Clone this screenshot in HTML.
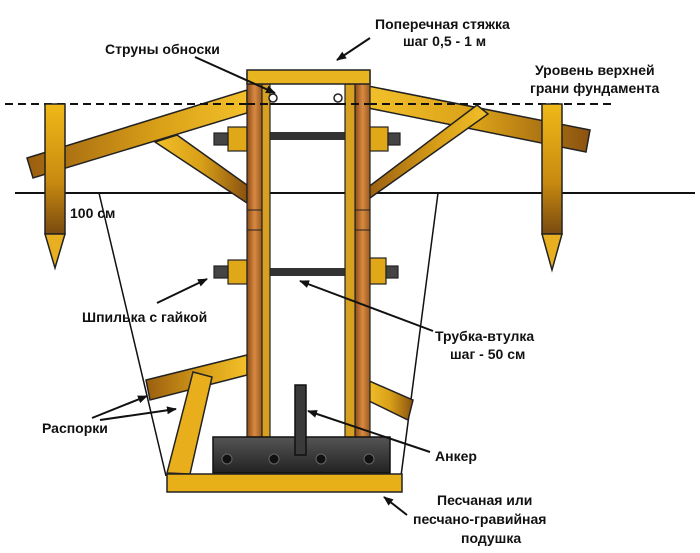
<!DOCTYPE html>
<html><head><meta charset="utf-8"><style>
html,body{margin:0;padding:0;background:#fff;width:700px;height:553px;overflow:hidden}
text{font-family:"Liberation Sans","DejaVu Sans",sans-serif;font-weight:bold;font-size:14px;fill:#111}
</style></head><body>
<svg width="700" height="553" viewBox="0 0 700 553" xmlns="http://www.w3.org/2000/svg">
<defs>
<linearGradient id="wv" x1="0" y1="0" x2="0" y2="1"><stop offset="0" stop-color="#f0b818"/><stop offset="0.6" stop-color="#c88a10"/><stop offset="1" stop-color="#7a4a10"/></linearGradient>
<linearGradient id="wh" x1="0" y1="0" x2="1" y2="0"><stop offset="0" stop-color="#9a5e10"/><stop offset="0.6" stop-color="#d9a018"/><stop offset="1" stop-color="#f2c02a"/></linearGradient>
<linearGradient id="wh2" x1="0" y1="0" x2="1" y2="0"><stop offset="0" stop-color="#f2c02a"/><stop offset="0.5" stop-color="#d9a018"/><stop offset="1" stop-color="#8a5210"/></linearGradient>
<linearGradient id="post" x1="0" y1="0" x2="1" y2="0"><stop offset="0" stop-color="#8a4a18"/><stop offset="0.5" stop-color="#d88a40"/><stop offset="1" stop-color="#9a5a20"/></linearGradient>
<linearGradient id="dark" x1="0" y1="0" x2="0" y2="1"><stop offset="0" stop-color="#555"/><stop offset="1" stop-color="#222"/></linearGradient>
<marker id="ar" markerWidth="10" markerHeight="8" refX="9" refY="4" orient="auto" markerUnits="userSpaceOnUse"><path d="M0,0 L10,4 L0,8 Z" fill="#111"/></marker>
</defs>
<line x1="15" y1="193" x2="695" y2="193" stroke="#111" stroke-width="2"/>
<line x1="99" y1="193" x2="166" y2="476" stroke="#111" stroke-width="1.5"/>
<line x1="438" y1="193" x2="401" y2="476" stroke="#111" stroke-width="1.5"/>
<polygon points="27,158 247,90 247,113 33,178" fill="url(#wh)" stroke="#222" stroke-width="1.5"/>
<polygon points="155,142 177,135 247,185 247,203" fill="url(#wh2)" stroke="#222" stroke-width="1.5"/>
<polygon points="368,86 590,130 586,152 368,108" fill="url(#wh2)" stroke="#222" stroke-width="1.5"/>
<polygon points="367,188 477,105 488,114 370,198" fill="url(#wh)" stroke="#222" stroke-width="1.5"/>
<line x1="5" y1="104" x2="615" y2="104" stroke="#111" stroke-width="2" stroke-dasharray="8,5"/>
<rect x="45" y="104" width="20" height="130" fill="url(#wv)" stroke="#222" stroke-width="1.5"/>
<polygon points="45,234 65,234 55,268" fill="#e8b020" stroke="#222" stroke-width="1.5"/>
<rect x="542" y="104" width="20" height="130" fill="url(#wv)" stroke="#222" stroke-width="1.5"/>
<polygon points="542,234 562,234 552,270" fill="#e8b020" stroke="#222" stroke-width="1.5"/>
<polygon points="146,380 247,355 247,375 150,400" fill="url(#wh)" stroke="#222" stroke-width="1.5"/>
<polygon points="193,372 212,377 190,474 167,473" fill="#e8ae1c" stroke="#222" stroke-width="1.5"/>
<polygon points="367,380 413,400 408,420 367,400" fill="url(#wh2)" stroke="#222" stroke-width="1.5"/>
<rect x="268" y="132" width="80" height="8" fill="#333"/>
<rect x="268" y="268" width="80" height="8" fill="#333"/>
<g stroke="#222" stroke-width="1.2">
<rect x="228" y="127" width="19" height="24" fill="#e0a818"/><rect x="214" y="133" width="14" height="12" fill="#444"/>
<rect x="369" y="127" width="19" height="24" fill="#e0a818"/><rect x="388" y="133" width="12" height="12" fill="#444"/>
<rect x="228" y="260" width="19" height="24" fill="#e0a818"/><rect x="214" y="266" width="14" height="12" fill="#444"/>
<rect x="367" y="258" width="19" height="26" fill="#e0a818"/><rect x="386" y="266" width="12" height="12" fill="#444"/>
</g>
<rect x="247" y="72" width="15" height="366" fill="url(#post)" stroke="#222" stroke-width="1.2"/>
<rect x="262" y="84" width="8" height="354" fill="#d8a020" stroke="#222" stroke-width="1.2"/>
<rect x="355" y="72" width="15" height="366" fill="url(#post)" stroke="#222" stroke-width="1.2"/>
<rect x="345" y="84" width="10" height="354" fill="#d8a020" stroke="#222" stroke-width="1.2"/>
<rect x="247" y="70" width="123" height="14" fill="#e8b420" stroke="#222" stroke-width="1.5"/>
<line x1="247" y1="210" x2="262" y2="210" stroke="#222"/><line x1="247" y1="230" x2="262" y2="230" stroke="#222"/>
<line x1="355" y1="210" x2="370" y2="210" stroke="#222"/><line x1="355" y1="230" x2="370" y2="230" stroke="#222"/>
<line x1="247" y1="104" x2="370" y2="104" stroke="#111" stroke-width="2" stroke-dasharray="8,5"/>
<circle cx="273" cy="98" r="4" fill="#fff" stroke="#222" stroke-width="1.5"/>
<circle cx="338" cy="98" r="4" fill="#fff" stroke="#222" stroke-width="1.5"/>
<rect x="213" y="437" width="177" height="36" fill="url(#dark)" stroke="#111" stroke-width="1.5"/>
<rect x="295" y="385" width="11" height="70" fill="#3a3a3a" stroke="#111" stroke-width="1.5"/>
<g fill="#111" stroke="#666" stroke-width="1"><circle cx="227" cy="459" r="5"/><circle cx="274" cy="459" r="5"/><circle cx="321" cy="459" r="5"/><circle cx="369" cy="459" r="5"/></g>
<rect x="167" y="474" width="235" height="18" fill="#e8b018" stroke="#222" stroke-width="1.5"/>
<g stroke="#111" stroke-width="2" marker-end="url(#ar)" fill="none">
<line x1="370" y1="38" x2="337" y2="60"/>
<line x1="195" y1="57" x2="275" y2="93"/>
<line x1="157" y1="303" x2="207" y2="279"/>
<line x1="433" y1="331" x2="300" y2="281"/>
<line x1="92" y1="418" x2="147" y2="396"/>
<line x1="100" y1="420" x2="176" y2="409"/>
<line x1="430" y1="452" x2="308" y2="411"/>
<line x1="407" y1="515" x2="384" y2="497"/>
</g>
<text x="375" y="29">Поперечная стяжка</text>
<text x="403" y="46">шаг 0,5 - 1 м</text>
<text x="105" y="54">Струны обноски</text>
<text x="535" y="75">Уровень верхней</text>
<text x="530" y="93">грани фундамента</text>
<text x="70" y="218">100 см</text>
<text x="82" y="322">Шпилька с гайкой</text>
<text x="435" y="341">Трубка-втулка</text>
<text x="450" y="359">шаг - 50 см</text>
<text x="42" y="433">Распорки</text>
<text x="435" y="461">Анкер</text>
<text x="437" y="505">Песчаная или</text>
<text x="413" y="524">песчано-гравийная</text>
<text x="461" y="543">подушка</text>
</svg>
</body></html>
